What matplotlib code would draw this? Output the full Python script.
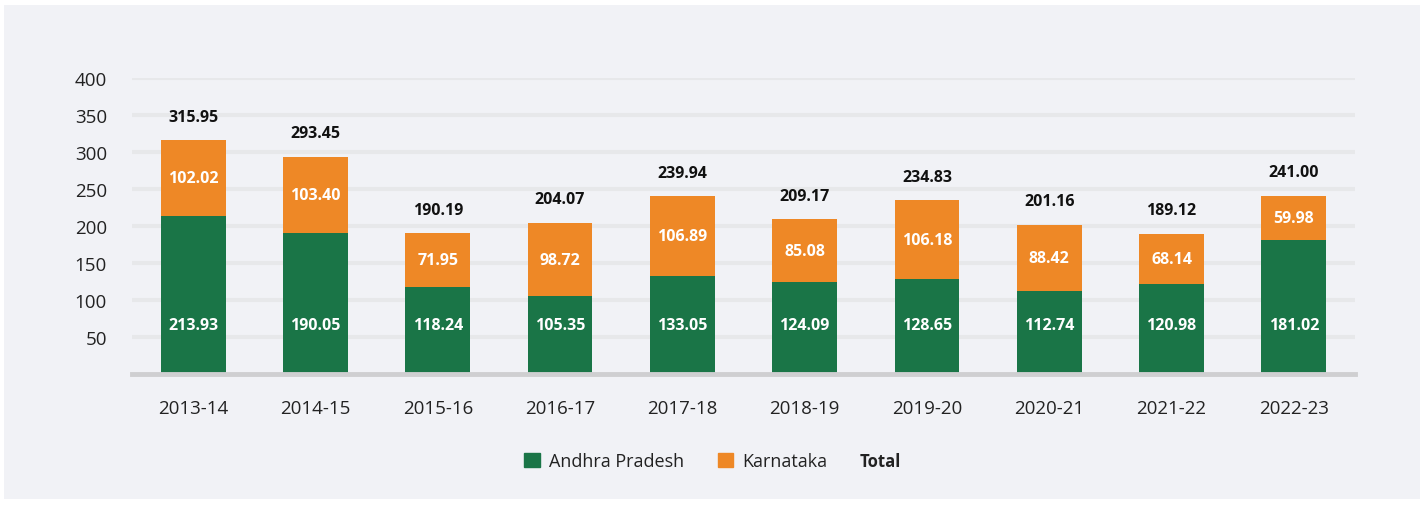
import matplotlib.pyplot as plt
from matplotlib.patches import Patch, Rectangle

years = ["2013-14", "2014-15", "2015-16", "2016-17", "2017-18",
         "2018-19", "2019-20", "2020-21", "2021-22", "2022-23"]
andhra = [213.93, 190.05, 118.24, 105.35, 133.05, 124.09, 128.65, 112.74, 120.98, 181.02]
karnataka = [102.02, 103.40, 71.95, 98.72, 106.89, 85.08, 106.18, 88.42, 68.14, 59.98]
totals = [315.95, 293.45, 190.19, 204.07, 239.94, 209.17, 234.83, 201.16, 189.12, 241.00]

GREEN = "#1a7547"
ORANGE = "#ee8826"
BG = "#f1f2f6"

plt.rcParams['font.family'] = ['Open Sans', 'DejaVu Sans']

fig = plt.figure(figsize=(14.27, 5.06), dpi=100)
fig.patch.set_facecolor("white")
# light panel behind the chart, white margin around it
fig.patches.append(Rectangle((4 / 1427, 6 / 506), 1416 / 1427, 494 / 506,
                             transform=fig.transFigure, facecolor=BG, edgecolor="none", zorder=-10))

ax = fig.add_axes([132 / 1427, 1 - 375 / 506, (1355 - 132) / 1427, (375 - 79) / 506])
ax.set_facecolor(BG)
ax.set_zorder(1)

x = range(len(years))
w = 0.53
ax.bar(x, andhra, width=w, color=GREEN, zorder=3, label="Andhra Pradesh")
ax.bar(x, karnataka, width=w, bottom=andhra, color=ORANGE, zorder=3, label="Karnataka")

for i in x:
    ax.text(i, 66, f"{andhra[i]:.2f}", ha="center", va="center", color="white",
            fontsize=11.5, fontweight="bold", zorder=4)
    ax.text(i, andhra[i] + karnataka[i] / 2, f"{karnataka[i]:.2f}", ha="center", va="center",
            color="white", fontsize=11.5, fontweight="bold", zorder=4)
    ax.text(i, totals[i] + 32, f"{totals[i]:.2f}", ha="center", va="center", color="#111111",
            fontsize=11.5, fontweight="bold", zorder=4)

ax.set_xlim(-0.5, len(years) - 0.5)
ax.set_ylim(0, 400)
ax.set_yticks([50, 100, 150, 200, 250, 300, 350, 400])
ax.set_xticks(list(x))
ax.set_xticklabels(years)
ax.tick_params(axis="y", length=0, pad=18, labelsize=13.5, labelcolor="#222222")
ax.tick_params(axis="x", length=0, pad=18, labelsize=13.5, labelcolor="#222222")
ax.grid(axis="y", color="#e7e8ea", linewidth=3, zorder=1)
for s in ["top", "right", "left"]:
    ax.spines[s].set_visible(False)
ax.spines["bottom"].set_color("#cfcfd1")
ax.spines["bottom"].set_linewidth(3.5)
ax.spines["bottom"].set_zorder(5)

handles = [Patch(color=GREEN), Patch(color=ORANGE)]
leg = fig.legend(handles, ["Andhra Pradesh", "Karnataka"], loc="center",
                 bbox_to_anchor=(676 / 1427, 1 - 462 / 506), ncol=2, frameon=False, fontsize=13,
                 handlelength=0.85, handleheight=0.85, handletextpad=0.5, columnspacing=1.9)
for t in leg.get_texts():
    t.set_color("#222222")
fig.text(880 / 1427, 1 - 462 / 506, "Total", ha="center", va="center",
         fontsize=12, fontweight="bold", color="#222222")

fig.savefig("out.png", dpi=100, facecolor=fig.get_facecolor())
